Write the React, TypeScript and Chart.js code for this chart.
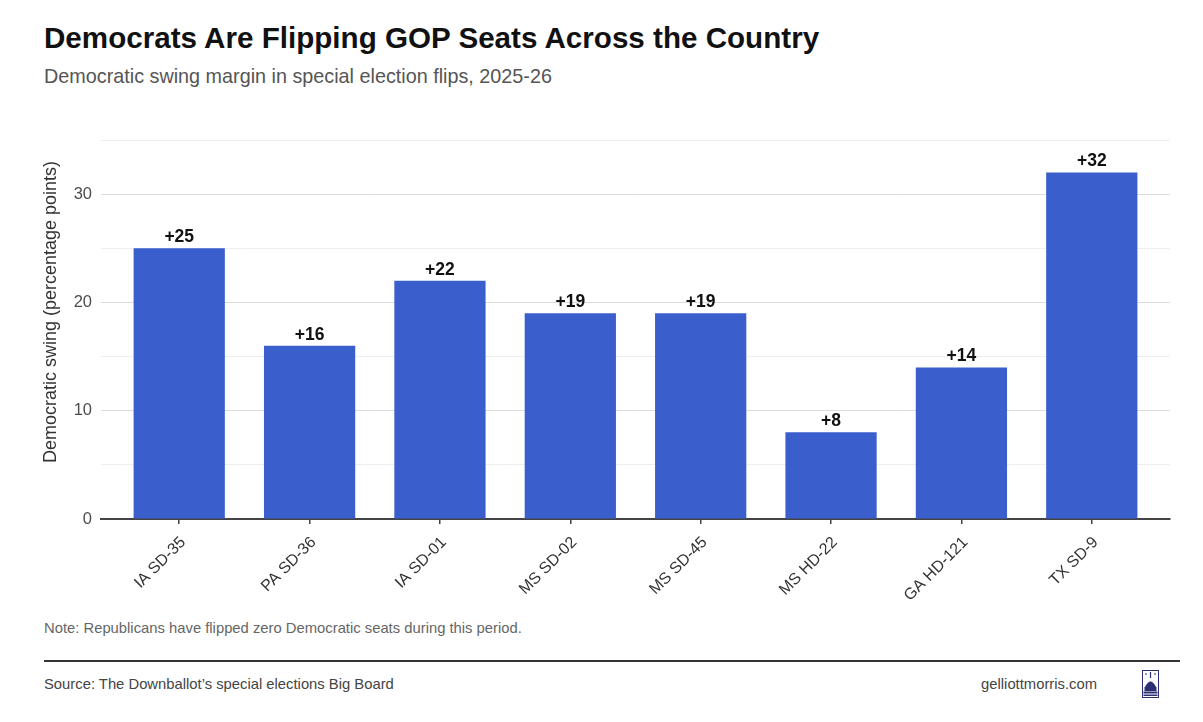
import React, { useEffect, useRef } from "react";
import { Chart, registerables } from "chart.js";

Chart.register(...registerables);

const categories = ["IA SD-35", "PA SD-36", "IA SD-01", "MS SD-02", "MS SD-45", "MS HD-22", "GA HD-121", "TX SD-9"];
const swingValues = [25, 16, 22, 19, 19, 8, 14, 32];
const yTickValues = [0, 5, 10, 15, 20, 25, 30, 35];
const yLabeledTicks = [0, 10, 20, 30];

const titleText = "Democrats Are Flipping GOP Seats Across the Country";
const subtitleText = "Democratic swing margin in special election flips, 2025-26";
const yAxisTitle = "Democratic swing (percentage points)";
const noteText = "Note: Republicans have flipped zero Democratic seats during this period.";
const sourceText = "Source: The Downballot\u2019s special elections Big Board";
const siteText = "gelliottmorris.com";

const FONT = '"Liberation Sans", Arial, Helvetica, sans-serif';
const BAR_COLOR = "#3A5FCD";

const overlayPlugin = {
  id: "overlay",
  afterDatasetsDraw(chart: any) {
    const ctx = chart.ctx as CanvasRenderingContext2D;
    const meta = chart.getDatasetMeta(0);
    ctx.save();
    ctx.font = `bold 17.5px ${FONT}`;
    ctx.fillStyle = "#111111";
    ctx.textAlign = "center";
    ctx.textBaseline = "alphabetic";
    meta.data.forEach((bar: any, i: number) => {
      ctx.fillText("+" + swingValues[i], bar.x, bar.y - 6);
    });
    ctx.restore();

    ctx.save();
    const ca = chart.chartArea;
    ctx.translate(51, ca.top + 172);
    ctx.rotate(-Math.PI / 2);
    ctx.font = `18px ${FONT}`;
    ctx.fillStyle = "#333333";
    ctx.textAlign = "center";
    ctx.textBaseline = "middle";
    ctx.fillText(yAxisTitle, 0, 0);
    ctx.restore();
  },
};

function ChartCanvas() {
  const ref = useRef<HTMLCanvasElement | null>(null);
  useEffect(() => {
    if (!ref.current) return;
    const chart = new Chart(ref.current, {
      type: "bar",
      data: {
        datasets: [
          {
            data: swingValues.map((v, i) => ({ x: i, y: v })),
            backgroundColor: BAR_COLOR,
            borderWidth: 0,
            barPercentage: 1,
            categoryPercentage: 0.7,
          },
        ],
      },
      options: {
        animation: false,
        responsive: true,
        maintainAspectRatio: false,
        layout: { padding: { top: 40, right: 33, left: 0, bottom: 0 } },
        plugins: { legend: { display: false }, tooltip: { enabled: false } },
        scales: {
          x: {
            type: "linear",
            offset: false,
            min: -0.6,
            max: 7.6,
            afterBuildTicks: (scale: any) => {
              scale.ticks = categories.map((_, i) => ({ value: i }));
            },
            afterFit: (scale: any) => {
              scale.height = 101;
            },
            ticks: {
              autoSkip: false,
              minRotation: 45,
              maxRotation: 45,
              padding: 9,
              labelOffset: 4,
              color: "#333333",
              font: { family: FONT, size: 16 },
              callback: (value: any) => categories[Math.round(Number(value))] ?? "",
            },
            grid: {
              display: true,
              offset: false,
              drawOnChartArea: false,
              drawTicks: true,
              tickLength: 5,
              color: "#444444",
              lineWidth: 1.5,
            },
            border: { display: true, color: "#444444", width: 2 },
          },
          y: {
            type: "linear",
            min: 0,
            max: 35,
            afterBuildTicks: (scale: any) => {
              scale.ticks = yTickValues.map((v) => ({ value: v }));
            },
            afterFit: (scale: any) => {
              scale.width = 101;
            },
            ticks: {
              padding: 9,
              color: "#4d4d4d",
              font: { family: FONT, size: 16.5 },
              callback: (value: any) => (yLabeledTicks.includes(Number(value)) ? String(value) : ""),
            },
            grid: {
              drawTicks: false,
              color: (c: any) => (yLabeledTicks.includes(c.tick?.value) ? "#dcdcdc" : "#eeeeee"),
              lineWidth: 1,
            },
            border: { display: false },
          },
        },
      },
      plugins: [overlayPlugin],
    } as any);
    return () => chart.destroy();
  }, []);
  return <canvas ref={ref} />;
}

function Logo() {
  const navy = "#2e2f72";
  return (
    <svg width="17" height="28" viewBox="0 0 17 28" style={{ position: "absolute", left: 1142, top: 670 }}>
      <rect x="0.5" y="0.5" width="16" height="27" fill="none" stroke={navy} strokeWidth="1" />
      <line x1="3" y1="4" x2="5" y2="4" stroke={navy} strokeWidth="1" />
      <line x1="12" y1="4" x2="14" y2="4" stroke={navy} strokeWidth="1" />
      <line x1="8.5" y1="2" x2="8.5" y2="8" stroke={navy} strokeWidth="1.2" />
      <path d="M3 17 Q8.5 6 14 17 Z" fill={navy} />
      <rect x="2.5" y="17" width="12" height="4" fill={navy} />
      <rect x="1.5" y="21.5" width="14" height="2" fill={navy} />
      <rect x="1.5" y="24.5" width="14" height="1.5" fill={navy} />
    </svg>
  );
}

export default function App() {
  return (
    <div
      style={{
        position: "fixed",
        left: 0,
        top: 0,
        width: 1203,
        height: 722,
        background: "#ffffff",
        fontFamily: FONT,
        overflow: "hidden",
      }}
    >
      <div
        style={{
          position: "absolute",
          left: 44,
          top: 23,
          fontSize: 29.6,
          lineHeight: "30px",
          fontWeight: "bold",
          color: "#111111",
          whiteSpace: "nowrap",
        }}
      >
        {titleText}
      </div>
      <div
        style={{
          position: "absolute",
          left: 44,
          top: 66,
          fontSize: 19.8,
          lineHeight: "20px",
          color: "#555555",
          whiteSpace: "nowrap",
        }}
      >
        {subtitleText}
      </div>
      <div style={{ position: "absolute", left: 0, top: 100, width: 1203, height: 520 }}>
        <ChartCanvas />
      </div>
      <div
        style={{
          position: "absolute",
          left: 44,
          top: 620,
          fontSize: 14.8,
          lineHeight: "16px",
          color: "#666666",
          whiteSpace: "nowrap",
        }}
      >
        {noteText}
      </div>
      <div
        style={{
          position: "absolute",
          left: 44,
          top: 660,
          width: 1136,
          height: 2,
          background: "#333333",
        }}
      />
      <div
        style={{
          position: "absolute",
          left: 44,
          top: 676,
          fontSize: 14.8,
          lineHeight: "16px",
          color: "#444444",
          whiteSpace: "nowrap",
        }}
      >
        {sourceText}
      </div>
      <div
        style={{
          position: "absolute",
          right: 1203 - 1097,
          top: 676,
          fontSize: 14.8,
          lineHeight: "16px",
          color: "#444444",
          whiteSpace: "nowrap",
        }}
      >
        {siteText}
      </div>
      <Logo />
    </div>
  );
}
